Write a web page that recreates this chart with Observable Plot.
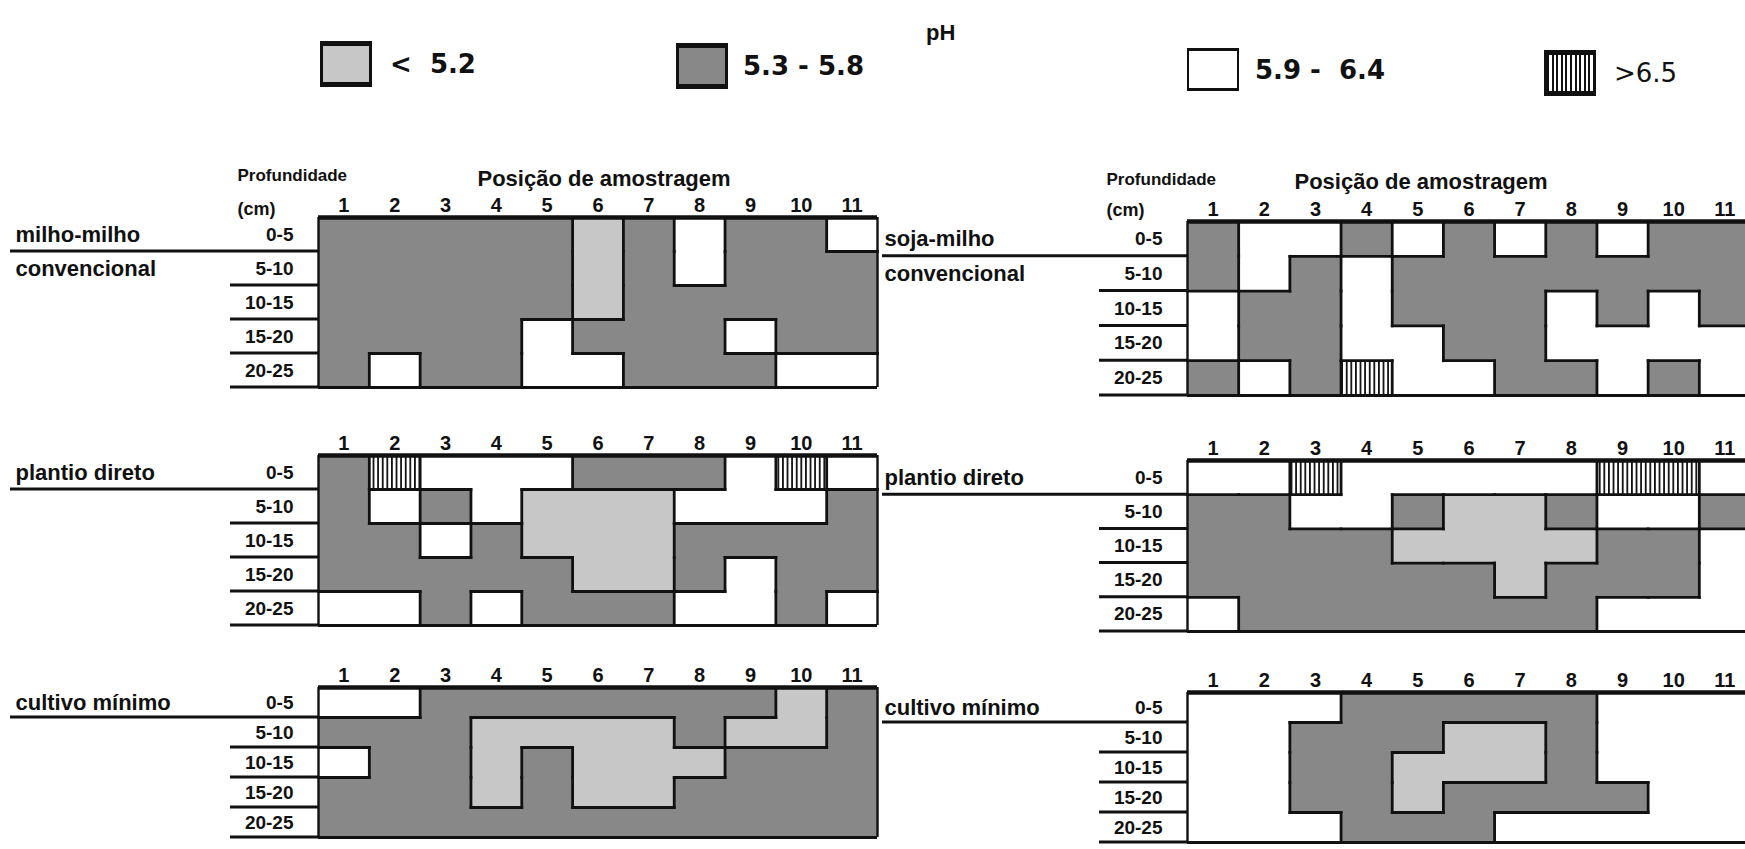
<!DOCTYPE html>
<html>
<head>
<meta charset="utf-8">
<script src="https://cdn.jsdelivr.net/npm/d3@7"></script>
<script src="https://cdn.jsdelivr.net/npm/@observablehq/plot@0.6"></script>
<style>
  html, body { margin: 0; padding: 0; background: #fff; }
  body { width: 1745px; height: 849px; overflow: hidden; position: relative;
         font-family: "Liberation Sans", Arial, Helvetica, sans-serif; color: #111; }
  .abs { position: absolute; }
  .sw { position: absolute; box-sizing: border-box; border: 3px solid #111; border-top-width: 5px; border-bottom-width: 5px; }
  .lt { position: absolute; line-height: 1; transform: translateY(-50%); font-size: 26px; white-space: pre;
        font-family: "DejaVu Sans", Verdana, sans-serif; }
</style>
</head>
<body>
<div id="root"></div>
<script>
// ---------------- data ----------------
const legendTitle = "pH";
const categories = ["< 5.2", "5.3 - 5.8", "5.9 - 6.4", ">6.5"];
const legendLabels = ["<  5.2", "5.3 - 5.8", "5.9 -  6.4", ">6.5"];
const codes = ["A", "B", "C", "D"];               // codes used in the grids below
const positions = [1, 2, 3, 4, 5, 6, 7, 8, 9, 10, 11];
const depthTops = [0, 5, 10, 15, 20];
const depthLabels = ["0-5", "5-10", "10-15", "15-20", "20-25"];
const xTitle = "Posição de amostragem";
const yTitle1 = "Profundidade";
const yTitle2 = "(cm)";

// rows = depth 0-5 ... 20-25 ; characters = positions 1..11
const milhoConvencional = ["BBBBBABCBBC", "BBBBBABCBBB", "BBBBBABBBBB", "BBBBCBBBCBB", "BCBBCCBBBCC"];
const sojaConvencional  = ["BCCBCBCBCBB", "BCBCBBBBBBB", "CBBCBBBCBCB", "CBBCCBBCCCC", "BCBDCCBBCBC"];
const milhoDireto       = ["BDCCCBBBCDC", "BCBCAAACCCB", "BBCBAAABBBB", "BBBBBAABCBB", "CCBCBBBCCBC"];
const sojaDireto        = ["CCDCCCCCDDC", "BBCCBAABCCB", "BBBBAAAABBC", "BBBBBBABBBC", "CBBBBBBBCCC"];
const milhoMinimo       = ["CCBBBBBBBAB", "BBBAAAABAAB", "CBBABAAABBB", "BBBABAABBBB", "BBBBBBBBBBB"];
const sojaMinimo        = ["CCCBBBBBCCC", "CCBBBAABCCC", "CCBBAAABCCC", "CCBBABBBBCC", "CCCBBBCCCCC"];

const treatmentLabels = [
  ["milho-milho", "convencional"], ["soja-milho", "convencional"],
  ["plantio direto"], ["plantio direto"],
  ["cultivo mínimo"], ["cultivo mínimo"]
];

// ---------------- styles / layout ----------------
const FONT = '"Liberation Sans", Arial, Helvetica, sans-serif';
const INK = "#111";

const legendLayout = [
  {x: 320, y: 41, w: 52, h: 46, tx: 390, ty: 64, weight: "bold"},
  {x: 676, y: 43, w: 52, h: 46, tx: 743, ty: 66, weight: "bold"},
  {x: 1187, y: 48, w: 52, h: 43, tx: 1255, ty: 70, weight: "bold"},
  {x: 1544, y: 50, w: 52, h: 46, tx: 1614, ty: 73, weight: "normal"}
];

const panelLayout = [
  {grid: milhoConvencional, svgLeft: 0,   gridLeft: 318,  gridRight: 877,  top: 217, bottom: 387, header: true, profDx: -81, posDx: 159, profDy: -49, cmDy: -15, posDy: -47},
  {grid: sojaConvencional,  svgLeft: 872, gridLeft: 1187, gridRight: 1750, top: 221, bottom: 395, header: true, profDx: -81, posDx: 107, profDy: -49, cmDy: -18, posDy: -48},
  {grid: milhoDireto,       svgLeft: 0,   gridLeft: 318,  gridRight: 877,  top: 455, bottom: 625},
  {grid: sojaDireto,        svgLeft: 872, gridLeft: 1187, gridRight: 1750, top: 460, bottom: 631},
  {grid: milhoMinimo,       svgLeft: 0,   gridLeft: 318,  gridRight: 877,  top: 687, bottom: 837},
  {grid: sojaMinimo,        svgLeft: 872, gridLeft: 1187, gridRight: 1750, top: 692, bottom: 842}
];

const fillsFor = id => ["#c7c7c7", "#888888", "#ffffff", `url(#${id})`];

const root = document.getElementById("root");

// ---------------- legend ----------------
{
  const t = document.createElement("div");
  t.className = "abs";
  t.textContent = legendTitle;
  Object.assign(t.style, {left: "926px", top: "20px", font: `bold 22px ${FONT}`});
  root.appendChild(t);
  const fl = fillsFor("x");
  categories.forEach((c, i) => {
    const L = legendLayout[i];
    const s = document.createElement("div");
    s.className = "sw";
    Object.assign(s.style, {left: L.x + "px", top: L.y + "px", width: L.w + "px", height: L.h + "px"});
    if (i === 3) s.style.background = `repeating-linear-gradient(90deg, ${INK} 0 2px, #fff 2px 4.6px)`;
    else s.style.background = fl[i];
    if (i === 2) { s.style.borderWidth = "3px 2px"; }
    root.appendChild(s);
    const tx = document.createElement("div");
    tx.className = "lt";
    tx.textContent = legendLabels[i];
    Object.assign(tx.style, {left: L.tx + "px", top: L.ty + "px", fontWeight: L.weight});
    root.appendChild(tx);
  });
}

// ---------------- panels ----------------
panelLayout.forEach((P, pi) => {
  const grid = P.grid;
  const cells = [];
  const segs = [];
  grid.forEach((row, r) => {
    [...row].forEach((code, c) => {
      cells.push({pos: positions[c], top: depthTops[r], cat: categories[codes.indexOf(code)]});
      if (c < positions.length - 1 && row[c] !== row[c + 1])
        segs.push({x1: positions[c] + 0.5, x2: positions[c] + 0.5, y1: depthTops[r], y2: depthTops[r] + 5});
      if (r < grid.length - 1 && code !== grid[r + 1][c])
        segs.push({x1: positions[c] - 0.5, x2: positions[c] + 0.5, y1: depthTops[r] + 5, y2: depthTops[r] + 5});
    });
  });
  const depthStep = depthTops[1] - depthTops[0];
  const depthMax = depthTops[depthTops.length - 1] + depthStep;
  const depthMids = depthTops.map(d => d + depthStep / 2);
  const breaks = depthTops.slice(1).concat([depthMax]);

  const marginTop = P.header ? 70 : 40;
  const marginBottom = 6;
  const marginLeft = P.gridLeft - P.svgLeft;
  const marginRight = 2;
  const width = P.gridRight - P.svgLeft + marginRight;
  const height = marginTop + (P.bottom - P.top) + marginBottom;
  const hatchId = "hatch" + pi;
  const treatExt = marginLeft - 10;

  const hatchDefs = () => {
    const defs = d3.create("svg:defs");
    const pat = defs.append("pattern").attr("id", hatchId).attr("patternUnits", "userSpaceOnUse")
      .attr("width", 4.6).attr("height", 10);
    pat.append("rect").attr("width", 4.6).attr("height", 10).attr("fill", "#fff");
    pat.append("rect").attr("width", 1.8).attr("height", 10).attr("fill", INK);
    return defs.node();
  };

  const marginRules = (index, scales) => {
    const g = d3.create("svg:g").attr("stroke", INK);
    const x0 = scales.x(positions[0] - 0.5);
    for (const b of breaks) {
      const y = scales.y(b);
      g.append("line")
        .attr("x1", b === depthStep ? x0 - treatExt : x0 - 88)
        .attr("x2", x0).attr("y1", y).attr("y2", y)
        .attr("stroke-width", 3);
    }
    return g.node();
  };

  const labels = treatmentLabels[pi].map((t, i) => ({t, y: depthMids[i]}));

  const marks = [
    hatchDefs,
    Plot.rect(cells, {
      x1: d => d.pos - 0.5, x2: d => d.pos + 0.5,
      y1: "top", y2: d => d.top + depthStep,
      fill: "cat", shapeRendering: "crispEdges"
    }),
    Plot.link(segs, {x1: "x1", y1: "y1", x2: "x2", y2: "y2", stroke: INK, strokeWidth: 2.8, strokeLinecap: "square"}),
    Plot.ruleX([positions[0] - 0.5, positions[positions.length - 1] + 0.5], {stroke: INK, strokeWidth: 2.4}),
    Plot.ruleY([0], {stroke: INK, strokeWidth: 4.5}),
    Plot.ruleY([depthMax], {stroke: INK, strokeWidth: 3.2}),
    marginRules,
    Plot.axisX(positions, {anchor: "top", tickSize: 0, tickPadding: 6, fontSize: 20, fontWeight: "bold", label: null, fill: INK}),
    Plot.axisY(depthMids, {anchor: "left", tickSize: 0, tickPadding: 25, fontSize: 19, fontWeight: "bold", label: null, fill: INK,
      tickFormat: d => depthLabels[depthMids.indexOf(d)]}),
    Plot.text(labels, {y: "y", text: "t", frameAnchor: "left", textAnchor: "start", dx: -303, fontSize: 22, fontWeight: "bold", fill: INK})
  ];
  if (P.header) {
    marks.push(
      Plot.text([yTitle1], {text: d => d, frameAnchor: "top-left", textAnchor: "start", dx: P.profDx, dy: P.profDy, fontSize: 17, fontWeight: "bold", fill: INK}),
      Plot.text([yTitle2], {text: d => d, frameAnchor: "top-left", textAnchor: "start", dx: P.profDx, dy: P.cmDy, fontSize: 18, fontWeight: "bold", fill: INK}),
      Plot.text([xTitle], {text: d => d, frameAnchor: "top-left", textAnchor: "start", dx: P.posDx, dy: P.posDy, fontSize: 22, fontWeight: "bold", fill: INK})
    );
  }

  const chart = Plot.plot({
    width, height, marginTop, marginBottom, marginLeft, marginRight,
    x: {domain: [positions[0] - 0.5, positions[positions.length - 1] + 0.5]},
    y: {domain: [0, depthMax], reverse: true},
    color: {type: "ordinal", domain: categories, range: fillsFor(hatchId)},
    style: {background: "transparent", overflow: "visible", maxWidth: "none", fontFamily: FONT, color: INK},
    marks
  });
  const holder = document.createElement("div");
  holder.className = "abs";
  Object.assign(holder.style, {left: P.svgLeft + "px", top: (P.top - marginTop) + "px", width: width + "px", height: height + "px"});
  holder.appendChild(chart);
  root.appendChild(holder);
});
</script>
</body>
</html>
